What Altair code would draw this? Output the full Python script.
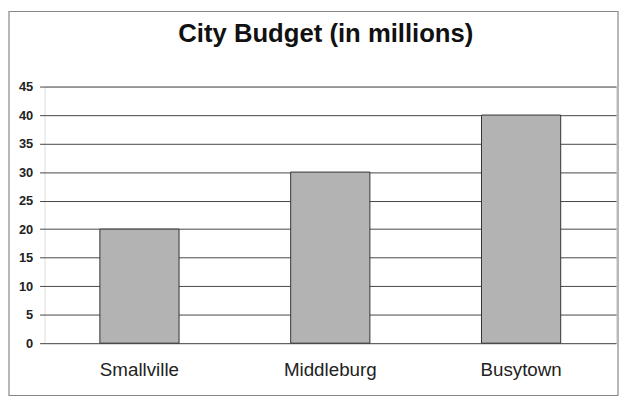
import altair as alt
import pandas as pd

title_text = "City Budget (in millions)"
cities = ["Smallville", "Middleburg", "Busytown"]
budgets = [20, 30, 40]
y_ticks = [0, 5, 10, 15, 20, 25, 30, 35, 40, 45]

df = pd.DataFrame({"city": cities, "budget": budgets})
FONT = "Liberation Sans"

bars = alt.Chart(df).mark_bar(
    color="#b3b3b3", stroke="#333333", strokeWidth=1
).encode(
    x=alt.X("city:N", sort=cities, title=None,
            scale=alt.Scale(paddingInner=0.585, paddingOuter=0.29),
            axis=alt.Axis(labelAngle=0, ticks=False, domain=False,
                          labelFont=FONT, labelFontSize=19, labelColor="#222222",
                          labelPadding=18)),
    y=alt.Y("budget:Q", title=None,
            scale=alt.Scale(domain=[0, 45], nice=False),
            axis=alt.Axis(values=y_ticks, domain=False, grid=True,
                          gridColor="#444444", gridWidth=1,
                          tickColor="#444444", tickSize=5,
                          labelFont=FONT, labelFontSize=13, labelFontWeight="bold",
                          labelColor="#222222", labelPadding=7)),
)

frame = alt.Chart(pd.DataFrame({"f": [0]})).mark_rect(
    fill=None, stroke="#888888", strokeWidth=1.2
).encode(
    x=alt.value(-36), x2=alt.value(581),
    y=alt.value(-76), y2=alt.value(313),
)

title = alt.Chart(pd.DataFrame({"t": [title_text]})).mark_text(
    font=FONT, fontSize=26, fontWeight="bold", color="#111111",
    align="center", baseline="alphabetic"
).encode(
    text="t:N", x=alt.value(285), y=alt.value(-45),
)

chart = alt.layer(frame, bars, title).properties(
    width=579, height=260,
    autosize=alt.AutoSizeParams(type="none"),
    padding={"left": 37, "top": 77, "right": 3, "bottom": 56},
).configure_view(stroke="#333333", strokeWidth=1.2).configure(background="white")

chart.save("out.html", embed_options={"renderer": "svg", "actions": False})
